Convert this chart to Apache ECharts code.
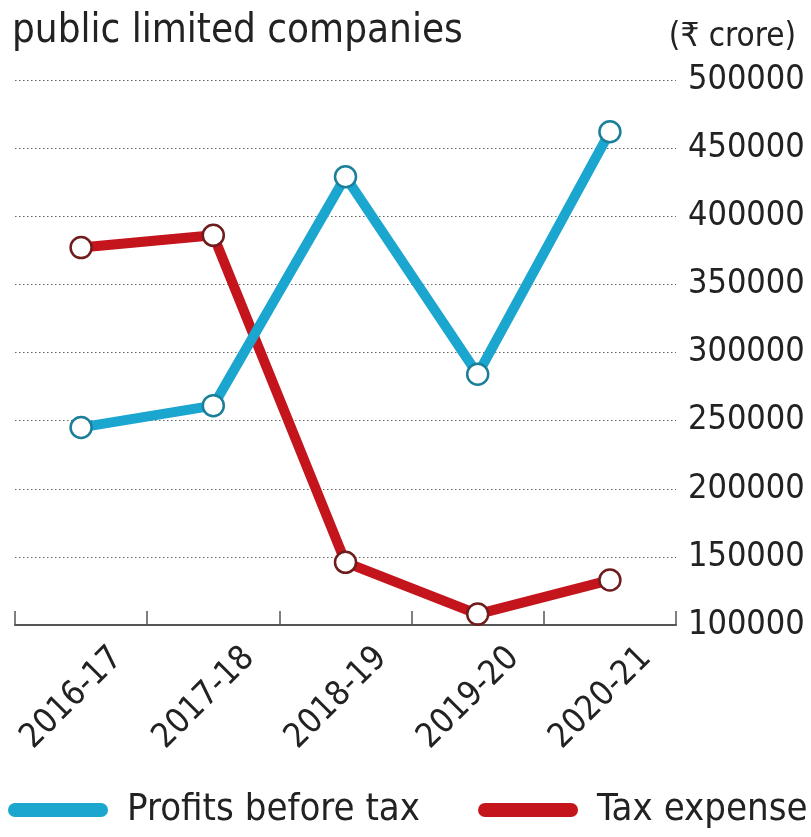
<!DOCTYPE html>
<html>
<head>
<meta charset="utf-8">
<script src="https://cdn.jsdelivr.net/npm/echarts@6/dist/echarts.min.js"></script>
<style>
  html, body { margin: 0; padding: 0; background: #fff; }
  #chart { width: 811px; height: 837px; }
</style>
</head>
<body>
<div id="chart"></div>
<script>
// Fiscal years on the category axis
const years = ['2016-17', '2017-18', '2018-19', '2019-20', '2020-21'];
// Values in ₹ crore
const profitsBeforeTax = [245000, 261000, 429000, 284000, 462000];
const taxExpense = [377000, 386000, 146000, 108000, 133000];
// Value axis range
const yMin = 100000;
const yMax = 500000;
const yStep = 50000;

const FONT = '"DejaVu Sans Condensed", "Liberation Sans Narrow", sans-serif';
const BLUE = '#1ba6cf';
const RED = '#c4141c';

const chart = echarts.init(document.getElementById('chart'), null, { renderer: 'canvas' });

const capsule = 'path://M7,0 L93,0 A7,7 0 0 1 93,14 L7,14 A7,7 0 0 1 7,0 Z';

chart.setOption({
  backgroundColor: '#ffffff',
  animation: false,
  title: [
    {
      text: 'public limited companies',
      left: 7, top: 7,
      textStyle: { fontFamily: FONT, fontSize: 40, fontWeight: 'normal', color: '#222' }
    },
    {
      text: '(₹ crore)',
      right: 10, top: 16,
      textStyle: { fontFamily: FONT, fontSize: 33, fontWeight: 'normal', color: '#222' }
    }
  ],
  legend: {
    left: 3, top: 786, width: 811,
    itemWidth: 100, itemHeight: 14, itemGap: 58,
    icon: capsule,
    data: [
      { name: 'Profits before tax', itemStyle: { color: BLUE, borderWidth: 0 } },
      { name: 'Tax expense', itemStyle: { color: RED, borderWidth: 0 } }
    ],
    textStyle: { fontFamily: FONT, fontSize: 38, color: '#222', padding: [0, 0, 0, 14] }
  },
  grid: { left: 15, right: 135, top: 80, bottom: 212, containLabel: false, outerBoundsMode: 'none' },
  xAxis: {
    type: 'category',
    data: years,
    boundaryGap: true,
    axisLine: { lineStyle: { color: '#555', width: 2 } },
    axisTick: { show: true, inside: true, length: 14, lineStyle: { color: '#555', width: 1.5 } },
    axisLabel: {
      rotate: 45, margin: 40, fontFamily: FONT, fontSize: 34, color: '#222',
      verticalAlign: 'top',
      padding: [0, -34, 0, 0]
    }
  },
  yAxis: {
    type: 'value',
    position: 'right',
    min: yMin, max: yMax, interval: yStep,
    axisLine: { show: false },
    axisTick: { show: false },
    axisLabel: {
      margin: 12, fontFamily: FONT, fontSize: 34, color: '#222',
      formatter: (v) => String(v)
    },
    splitLine: { lineStyle: { color: '#666', width: 1.2, type: [1.5, 2.5] } }
  },
  series: [
    {
      name: 'Tax expense',
      type: 'line',
      data: taxExpense,
      z: 2,
      lineStyle: { color: RED, width: 10 },
      itemStyle: { color: '#fff', borderColor: '#6e1c1c', borderWidth: 2.5 },
      symbol: 'circle', symbolSize: 21, showAllSymbol: true
    },
    {
      name: 'Profits before tax',
      type: 'line',
      data: profitsBeforeTax,
      z: 3,
      lineStyle: { color: BLUE, width: 10 },
      itemStyle: { color: '#fff', borderColor: '#1a7f99', borderWidth: 2.5 },
      symbol: 'circle', symbolSize: 21, showAllSymbol: true
    }
  ]
});
</script>
</body>
</html>
